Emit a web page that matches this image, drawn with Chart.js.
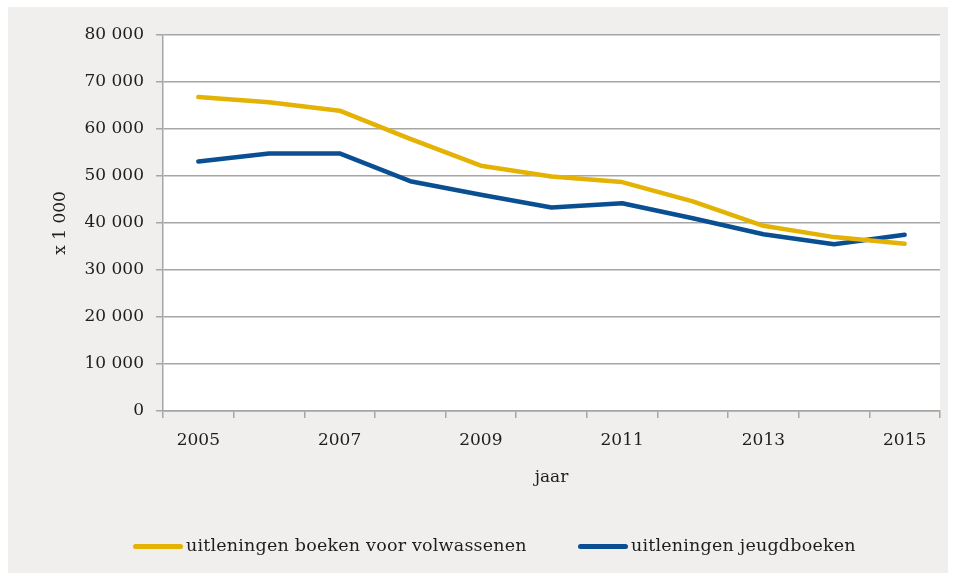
<!DOCTYPE html>
<html>
<head>
<meta charset="utf-8">
<script src="https://cdn.jsdelivr.net/npm/chart.js@4.4.1/dist/chart.umd.min.js"></script>
<style>
  body { margin: 0; background: #ffffff; font-family: "DejaVu Serif", serif; }
  #panel { position: absolute; left: 8px; top: 7px; width: 940px; height: 566px; background: #f0efed; }
  #chart { position: absolute; left: 0; top: 0; }
  .item { position: absolute; top: 528px; font-size: 17.5px; letter-spacing: 0.2px; color: #1e1e1e; white-space: nowrap; }
  .swatch { position: absolute; left: 0; top: 9px; width: 50px; height: 5px; border-radius: 3px; }
  .item span { position: absolute; left: 53px; top: 0; }
</style>
</head>
<body>
<div id="panel">
  <canvas id="chart" width="940" height="566"></canvas>
  <div id="legend"></div>
</div>
<script>
// --- data (x 1 000) ---
const years = ["2005", "2006", "2007", "2008", "2009", "2010", "2011", "2012", "2013", "2014", "2015"];
const volwassenen = [66800, 65700, 63900, 57900, 52200, 49900, 48700, 44600, 39400, 37000, 35600];
const jeugd = [53100, 54800, 54800, 48900, 46000, 43300, 44200, 41000, 37600, 35500, 37500];
const seriesNames = ["uitleningen boeken voor volwassenen", "uitleningen jeugdboeken"];
const seriesColors = ["#e3b203", "#0b4f93"];

const font = { family: "DejaVu Serif", size: 17 };

// white plot area on the grey panel
const plotBg = {
  id: "plotBg",
  beforeDraw(chart) {
    const { ctx, chartArea: a } = chart;
    ctx.save();
    ctx.fillStyle = "#ffffff";
    ctx.fillRect(a.left, a.top, a.right - a.left, a.bottom - a.top);
    ctx.restore();
  }
};

const fmt = v => String(v).replace(/\B(?=(\d{3})+(?!\d))/g, " ");

new Chart(document.getElementById("chart"), {
  type: "line",
  data: {
    labels: years,
    datasets: [volwassenen, jeugd].map((d, i) => ({
      label: seriesNames[i],
      data: d,
      borderColor: seriesColors[i],
      backgroundColor: seriesColors[i],
      borderWidth: 4.5,
      borderCapStyle: "round",
      borderJoinStyle: "round",
      pointRadius: 0,
      tension: 0
    }))
  },
  options: {
    responsive: false,
    animation: false,
    layout: { padding: { left: 38, right: 8, top: 28, bottom: 81 } },
    plugins: { legend: { display: false }, tooltip: { enabled: false } },
    scales: {
      x: {
        offset: true,
        grid: { offset: true, drawOnChartArea: false, tickLength: 7, color: "#a6a6a6", lineWidth: 1.5 },
        border: { color: "#a6a6a6", width: 1.5 },
        ticks: {
          autoSkip: false, maxRotation: 0, padding: 12, color: "#1e1e1e", font: font,
          callback: (v, i) => (i % 2 === 0 ? years[i] : "")
        },
        title: { display: true, text: "jaar", color: "#1e1e1e", font: font, padding: 4 },
        afterFit: s => { s.height = 81; }
      },
      y: {
        min: 0, max: 80000,
        grid: { tickLength: 7, color: "#a6a6a6", lineWidth: 1.5 },
        border: { color: "#a6a6a6", width: 1.5 },
        ticks: { stepSize: 10000, padding: 12, color: "#1e1e1e", font: font, callback: v => fmt(v) },
        title: { display: true, text: "x 1 000", color: "#1e1e1e", font: font, padding: 4 },
        afterFit: s => { s.width = 117; }
      }
    }
  },
  plugins: [plotBg]
});

// legend under the plot
const legendLeft = [125, 570];
const legend = document.getElementById("legend");
seriesNames.forEach((name, i) => {
  const item = document.createElement("div");
  item.className = "item";
  item.style.left = legendLeft[i] + "px";
  item.innerHTML = '<div class="swatch" style="background:' + seriesColors[i] + '"></div><span>' + name + "</span>";
  legend.appendChild(item);
});
</script>
</body>
</html>
